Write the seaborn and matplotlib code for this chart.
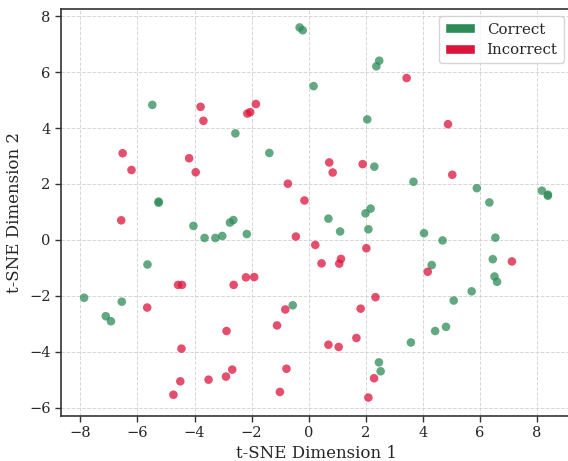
import numpy as np
import pandas as pd
import matplotlib
matplotlib.use("Agg")
import matplotlib.pyplot as plt
from matplotlib.patches import Patch
import seaborn as sns

correct_x = [-0.32, -0.21, -5.48, -2.57, -1.38, -5.26, -5.26, -4.04, -2.76, -2.64,
             2.37, 2.47, 0.17, 2.05, 2.30, 3.67, 5.89, 8.17, 8.38, 8.38,
             6.33, 0.69, 1.99, 2.17, 1.10, 2.09, 4.04, 4.69, 6.54, 4.31,
             6.45, 6.51, 6.60, 5.71, 5.08, 4.81, 4.43, 3.58, 2.46, 2.52,
             -3.65, -3.27, -3.03, -2.17, -5.65, -7.87, -6.55, -7.11, -6.93, -0.56]
correct_y = [7.60, 7.50, 4.83, 3.81, 3.11, 1.37, 1.33, 0.50, 0.62, 0.71,
             6.21, 6.41, 5.50, 4.31, 2.62, 2.08, 1.85, 1.76, 1.62, 1.58,
             1.34, 0.76, 0.95, 1.12, 0.30, 0.38, 0.24, -0.02, 0.08, -0.90,
             -0.69, -1.31, -1.50, -1.84, -2.17, -3.11, -3.26, -3.67, -4.38, -4.70,
             0.07, 0.07, 0.14, 0.21, -0.88, -2.07, -2.21, -2.73, -2.91, -2.34]

incorrect_x = [-3.79, -3.69, -2.15, -2.05, -1.85, -6.52, -6.21, -4.19, -3.96, -0.73,
               -0.15, -6.57, 3.43, 4.88, 0.72, 0.84, 1.89, 5.03, 0.23, 2.02,
               0.45, 1.07, 1.13, 4.17, 7.12, 2.34, 1.82, 1.67, 0.69, 1.05,
               2.29, 2.09, -0.45, -4.58, -4.44, -2.20, -1.91, -2.63, -5.66, -0.82,
               -1.11, -2.88, -4.46, -2.68, -0.78, -2.90, -3.51, -4.50, -1.01, -4.74]
incorrect_y = [4.76, 4.26, 4.52, 4.57, 4.86, 3.10, 2.50, 2.92, 2.42, 2.01,
               1.41, 0.70, 5.79, 4.14, 2.77, 2.41, 2.71, 2.33, -0.18, -0.30,
               -0.84, -0.85, -0.68, -1.14, -0.77, -2.05, -2.46, -3.51, -3.75, -3.83,
               -4.95, -5.64, 0.12, -1.61, -1.61, -1.34, -1.33, -1.61, -2.42, -2.49,
               -3.06, -3.26, -3.89, -4.64, -4.61, -4.89, -5.00, -5.06, -5.44, -5.54]

labels = ["Correct", "Incorrect"]
colors = {"Correct": "#2E8B57", "Incorrect": "#DC143C"}

df = pd.DataFrame({
    "x": correct_x + incorrect_x,
    "y": correct_y + incorrect_y,
    "label": [labels[0]] * len(correct_x) + [labels[1]] * len(incorrect_x),
})

sns.set_theme(style="ticks")
plt.rcParams["font.family"] = ["DejaVu Serif"]

fig = plt.figure(figsize=(5.68, 4.61), dpi=100)
ax = fig.add_axes([61 / 568, 45 / 461, 510 / 568, 407 / 461])

sns.scatterplot(data=df, x="x", y="y", hue="label", palette=colors,
                s=38, alpha=0.75, linewidth=0, legend=False, ax=ax)

ax.set_xlim(-8.68, 9.19)
ax.set_ylim(-6.30, 8.26)
ax.grid(True, linestyle="--", color="#cccccc", linewidth=0.7, alpha=0.8)
ax.set_axisbelow(True)
for sp in ax.spines.values():
    sp.set_color("#333333")
    sp.set_linewidth(1.2)
ax.tick_params(axis="both", labelsize=10.5, length=4, width=1, color="#333333")
ax.set_xticks([-8, -6, -4, -2, 0, 2, 4, 6, 8])
ax.set_yticks([-6, -4, -2, 0, 2, 4, 6, 8])
ax.set_xlabel("t-SNE Dimension 1", fontsize=12, labelpad=3)
ax.set_ylabel("t-SNE Dimension 2", fontsize=12)

handles = [Patch(facecolor=colors[l], label=l) for l in labels]
ax.legend(handles=handles, loc="upper right", fontsize=10.8, frameon=True,
          labelspacing=0.45, borderaxespad=0.5)

fig.savefig("out.png", dpi=100)
